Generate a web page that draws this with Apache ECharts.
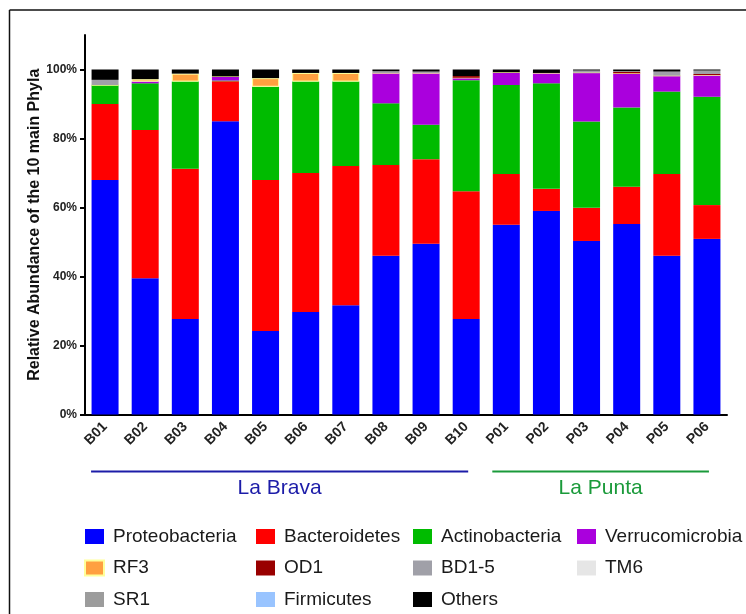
<!DOCTYPE html>
<html>
<head>
<meta charset="utf-8">
<script src="https://cdn.jsdelivr.net/npm/echarts@6/dist/echarts.min.js"></script>
<style>
html,body{margin:0;padding:0;background:#fff;}
#chart{width:746px;height:614px;}
</style>
</head>
<body>
<div id="chart"></div>
<script>
const categories = ['B01','B02','B03','B04','B05','B06','B07','B08','B09','B10','P01','P02','P03','P04','P05','P06'];
const proteobacteria = [68, 39.5, 27.7, 85, 24.2, 29.7, 31.7, 46, 49.5, 27.7, 55, 59, 50.3, 55.2, 46, 50.9];
const bacteroidetes = [22, 43, 43.5, 11.6, 43.8, 40.3, 40.3, 26.3, 24.5, 37, 14.7, 6.4, 9.6, 10.8, 23.7, 9.8];
const actinobacteria = [5.5, 13.5, 25.3, 0.2, 27, 26.5, 24.5, 17.9, 10, 32.2, 25.8, 30.6, 25, 23, 23.9, 31.4];
const verrucomicrobia = [0, 0.5, 0, 1.2, 0, 0, 0, 8.8, 15, 0.7, 3.7, 3, 14.2, 9.9, 4.6, 6.3];
const rf3 = [0, 0.7, 2.3, 0, 2.5, 2.5, 2.5, 0, 0, 0, 0, 0, 0, 0, 0, 0];
const od1 = [0, 0, 0, 0, 0, 0, 0, 0, 0, 0.5, 0, 0, 0, 0.4, 0, 0.3];
const bd15 = [1.5, 0, 0, 0, 0, 0, 0, 0.5, 0.4, 0, 0, 0, 0.6, 0.2, 1.2, 1.0];
const tm6 = [0, 0, 0, 0, 0, 0, 0, 0, 0, 0, 0, 0, 0, 0, 0, 0];
const sr1 = [0, 0, 0, 0, 0, 0, 0, 0, 0, 0, 0, 0, 0, 0, 0, 0];
const firmicutes = [0, 0, 0, 0, 0, 0, 0, 0, 0, 0, 0, 0, 0, 0, 0, 0];
const others = [3, 2.8, 1.2, 2.0, 2.5, 1.0, 1.0, 0.5, 0.6, 1.9, 0.8, 1, 0.3, 0.5, 0.6, 0.3];
const yTicks = [0, 20, 40, 60, 80, 100];
const groupNames = ['La Brava', 'La Punta'];
const groupFirst = ['B01', 'P01'];
const groupLast = ['B10', 'P06'];

const seriesNames = ['Proteobacteria','Bacteroidetes','Actinobacteria','Verrucomicrobia','RF3','OD1','BD1-5','TM6','SR1','Firmicutes','Others'];
const seriesData = [proteobacteria,bacteroidetes,actinobacteria,verrucomicrobia,rf3,od1,bd15,tm6,sr1,firmicutes,others];
const seriesColors = ['#0000ff','#ff0000','#00bb00','#aa00dd','#ffa040','#990000','#a0a0a8','#e6e6e6','#9c9c9c','#99c4ff','#000000'];
const groupColors = ['#1c1ca8', '#1a9a3a'];

const FONT = "'Liberation Sans', Arial, sans-serif";
const chart = echarts.init(document.getElementById('chart'), null, {renderer: 'canvas'});

const series = seriesNames.map((n, i) => ({
  name: n,
  type: 'bar',
  stack: 'total',
  barWidth: 27,
  data: seriesData[i],
  itemStyle: n === 'RF3'
    ? {color: seriesColors[i], borderColor: '#ffff99', borderWidth: 1}
    : {color: seriesColors[i]},
  emphasis: {disabled: true},
  animation: false
}));

function legendCol(items, left) {
  return {
    orient: 'vertical',
    left: left,
    top: 527,
    padding: 0,
    icon: 'rect',
    itemWidth: 19,
    itemHeight: 15,
    itemGap: 12.5,
    selectedMode: false,
    data: items,
    textStyle: {fontFamily: FONT, fontSize: 19, color: '#1a1a1a', lineHeight: 15, padding: [0, 0, 0, 4]}
  };
}

chart.setOption({
  animation: false,
  color: seriesColors,
  grid: {left: 85, right: 19, top: 35, bottom: 199.5, containLabel: false},
  xAxis: {
    type: 'category',
    data: categories,
    boundaryGap: true,
    axisLine: {lineStyle: {color: '#000', width: 2}},
    axisTick: {alignWithLabel: true, length: 5, lineStyle: {color: '#000', width: 2}},
    axisLabel: {rotate: 45, margin: 10, fontFamily: FONT, fontSize: 14, fontWeight: 'bold', color: '#222'}
  },
  yAxis: {
    type: 'value',
    min: 0,
    max: 110,
    interval: 20,
    name: 'Relative Abundance of the 10 main Phyla',
    nameLocation: 'middle',
    nameRotate: 90,
    nameGap: 42,
    nameMoveOverlap: false,
    nameTextStyle: {fontFamily: FONT, fontSize: 16, fontWeight: 'bold', color: '#111'},
    splitLine: {show: false},
    axisLine: {show: true, lineStyle: {color: '#000', width: 2}},
    axisTick: {show: true, length: 5, customValues: yTicks, lineStyle: {color: '#000', width: 2}},
    axisLabel: {customValues: yTicks, margin: 8, fontFamily: FONT, fontSize: 12, fontWeight: 'bold', color: '#222', formatter: v => v + '%'}
  },
  legend: [
    legendCol(['Proteobacteria', 'RF3', 'SR1'], 84),
    legendCol(['Bacteroidetes', 'OD1', 'Firmicutes'], 256),
    legendCol(['Actinobacteria', 'BD1-5', 'Others'], 413),
    legendCol(['Verrucomicrobia', 'TM6'], 577)
  ],
  series: series
});

const graphics = [
  {type: 'line', shape: {x1: 9.5, y1: 10, x2: 746, y2: 10}, style: {stroke: '#111', lineWidth: 1.5}},
  {type: 'line', shape: {x1: 9.5, y1: 10, x2: 9.5, y2: 614}, style: {stroke: '#111', lineWidth: 1.5}}
];
groupNames.forEach((g, i) => {
  const x1 = chart.convertToPixel({xAxisIndex: 0}, groupFirst[i]) - 14;
  const x2 = chart.convertToPixel({xAxisIndex: 0}, groupLast[i]) + 2;
  const y0 = chart.convertToPixel({yAxisIndex: 0}, 0);
  graphics.push({type: 'line', shape: {x1: x1, y1: y0 + 57, x2: x2, y2: y0 + 57}, style: {stroke: groupColors[i], lineWidth: 2}});
  graphics.push({type: 'text', x: (x1 + x2) / 2, y: y0 + 74, style: {text: g, fill: groupColors[i], font: '21px ' + FONT, textAlign: 'center', textVerticalAlign: 'middle'}});
});
chart.setOption({graphic: graphics});
</script>
</body>
</html>
